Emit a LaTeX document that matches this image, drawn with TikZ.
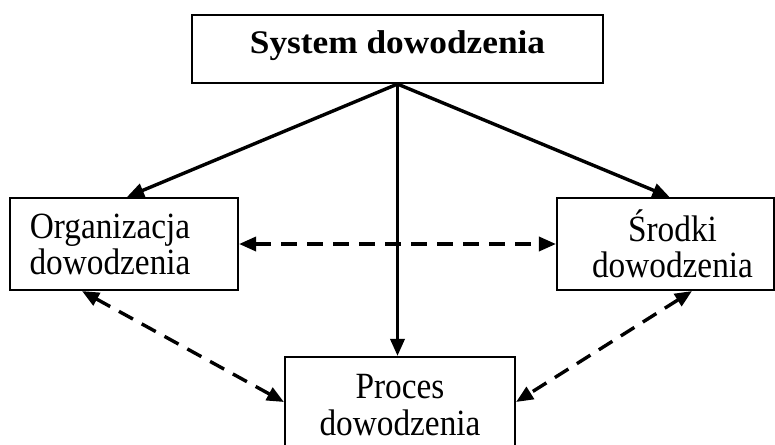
\documentclass[tikz,border=0pt]{standalone}
\usepackage{fontspec}
\setmainfont{Liberation Serif}
\usetikzlibrary{arrows.meta}
% slightly condensed serif lettering
\newcommand\cond[1]{\scalebox{0.9}[1]{#1}}
\newcommand\wide[1]{\scalebox{1.07}[1]{#1}}
\begin{document}
\begin{tikzpicture}[x=1pt,y=-1pt,
  box/.style={draw,line width=2.1pt,rectangle,inner sep=0pt},
  lbl/.style={align=center,inner sep=0pt,font=\fontsize{37}{36}\selectfont},
  solidarrow/.style={line width=3.4pt,-{Triangle[length=17pt,width=14pt]}},
  dasharrow/.style={line width=3.4pt,dash pattern=on 16pt off 10pt,
    {Triangle[length=17pt,width=14pt]}-{Triangle[length=17pt,width=14pt]}}]
  \clip (0,0) rectangle (775,444);
  \fill[white] (0,0) rectangle (775,444);
  % boxes with their labels
  \node[box,minimum width=411pt,minimum height=68pt,
    label={[inner sep=0pt,yshift=3pt,font=\fontsize{33}{38}\selectfont\bfseries]center:\wide{System dowodzenia}}]
    (sys) at (397.5,49) {};
  \node[box,minimum width=228pt,minimum height=92pt,
    label={[lbl,xshift=-14pt]center:\cond{Organizacja}\\\cond{dowodzenia}}]
    (org) at (124,244) {};
  \node[box,minimum width=217pt,minimum height=92pt,
    label={[lbl,xshift=7pt]center:\cond{Środki}\\\cond{dowodzenia}}]
    (srod) at (665.5,244) {};
  \node[box,minimum width=230pt,minimum height=106pt,
    label={[lbl,yshift=5pt,font=\fontsize{37}{37}\selectfont]center:\cond{Proces}\\\cond{dowodzenia}}]
    (proc) at (400,410) {};
  % solid arrows from the top box
  \draw[solidarrow] (sys.south) -- ([xshift=3pt]org.north);
  \draw[solidarrow] (sys.south) -- ([xshift=4pt]srod.north);
  \draw[solidarrow] (sys.south) -- (proc.north -| sys.south);
  % dashed two-way arrows
  \draw[dasharrow] (org.east) -- (srod.west);
  \draw[dasharrow] ([xshift=-42pt]org.south) -- ([yshift=8pt]proc.west);
  \draw[dasharrow] ([xshift=26.5pt]srod.south) -- ([yshift=8pt]proc.east);
\end{tikzpicture}
\end{document}
